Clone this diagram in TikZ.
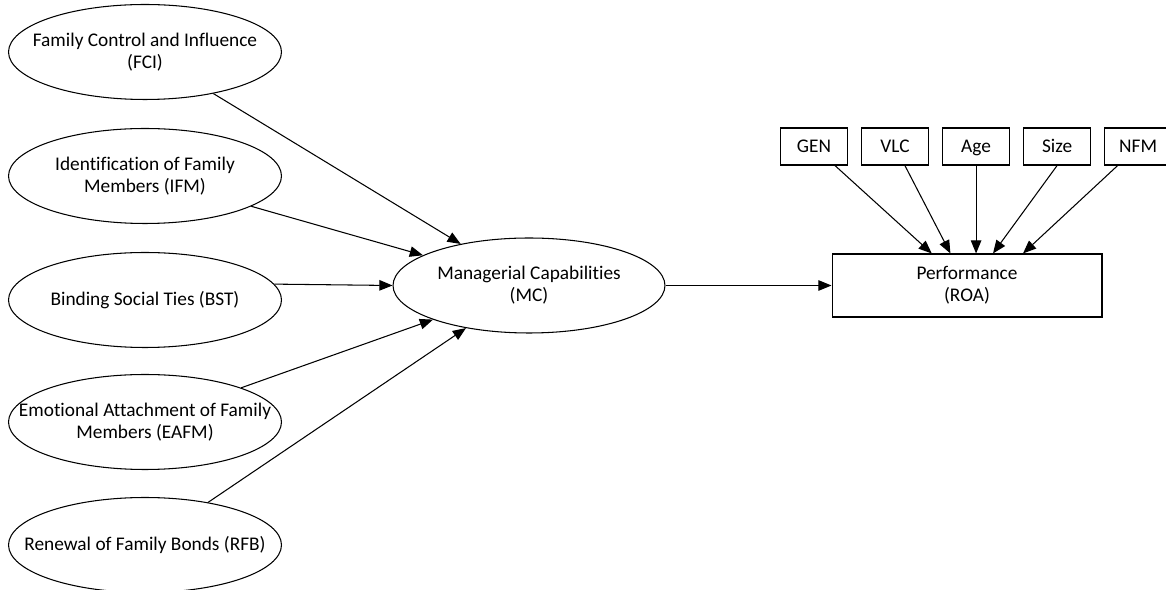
\documentclass[tikz,border=0pt]{standalone}
\usepackage{fontspec}
\setmainfont{Carlito}[Ligatures=NoCommon]
\usetikzlibrary{arrows.meta, shapes.geometric, positioning}
\tikzset{
  txt/.style = {align=center, inner sep=0pt,
    font=\fontsize{11}{12.5}\selectfont},
  factor/.style = {ellipse, draw=black, inner sep=0pt,
    minimum width=5.46cm, minimum height=1.9cm},
  ctrl/.style = {rectangle, draw=black, txt, text height=9pt, text depth=2pt,
    minimum width=1.34cm, minimum height=0.74cm},
  outcome/.style = {rectangle, draw=black, txt,
    minimum width=5.4cm, minimum height=1.26cm}
}

\begin{document}
\begin{tikzpicture}[x=0.02cm, y=-0.02cm, line width=0.6pt,
  ->, >={Triangle[length=7.5pt, width=6pt]}]
\useasboundingbox (0,0) rectangle (1166,590);

% family influence dimensions
\node [factor, label={[txt]center:Family Control and Influence\\(FCI)}] (fci) at (145,52) {};
\node [factor, label={[txt]center:Identification of Family\\Members (IFM)}] (ifm) at (145,176) {};
\node [factor, label={[txt]center:Binding Social Ties (BST)}] (bst) at (145,300) {};
\node [factor, label={[txt]center:Emotional Attachment of Family\\Members (EAFM)}] (eafm) at (145,422) {};
\node [factor, label={[txt]center:Renewal of Family Bonds (RFB)}] (rfb) at (145,545) {};

% mediator and outcome
\node [factor, minimum width=5.44cm, label={[txt]center:Managerial Capabilities\\(MC)}] (mc) at (529,285.5) {};
\node [outcome] (perf) at (967,285.5) {Performance\\(ROA)};

% controls
\node [ctrl] (gen) at (814,146.5) {GEN};
\node [ctrl, right=0.26cm of gen] (vlc) {VLC};
\node [ctrl, right=0.26cm of vlc] (age) {Age};
\node [ctrl, right=0.26cm of age] (size) {Size};
\node [ctrl, right=0.26cm of size] (nfm) {NFM};

\draw (fci) -- (mc);
\draw (ifm) -- (mc);
\draw (bst.7) -- (mc.west);
\draw (eafm) -- (mc);
\draw (rfb) -- (mc);
\draw (mc) -- (perf);

\draw (gen) -- (perf);
\draw (vlc) -- (perf);
\draw (age) -- (age |- perf.north);
\draw (size.south) -- ([xshift=0.52cm]perf.north);
\draw (nfm) -- ([xshift=1.12cm]perf.north);
\end{tikzpicture}
\end{document}
